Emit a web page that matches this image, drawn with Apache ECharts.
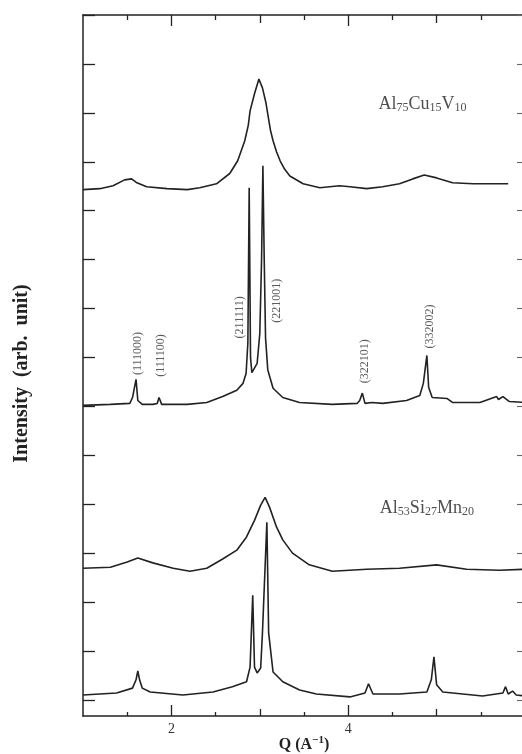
<!DOCTYPE html>
<html>
<head>
<meta charset="utf-8">
<script src="https://cdn.jsdelivr.net/npm/echarts@6/dist/echarts.min.js"></script>
<style>
html,body{margin:0;padding:0;background:#fff;}
#c{width:522px;height:754px;}
</style>
</head>
<body>
<div id="c"></div>
<script>
// Q (A^-1) vs intensity (arb. unit, in tick units)
const curveAlCuV = [[1.0,10.43],[1.19,10.45],[1.34,10.51],[1.47,10.63],[1.55,10.65],[1.61,10.57],[1.72,10.49],[1.95,10.45],[2.18,10.43],[2.32,10.47],[2.51,10.55],[2.66,10.76],[2.75,11.02],[2.83,11.43],[2.87,11.75],[2.89,12.04],[2.94,12.39],[2.99,12.69],[3.03,12.51],[3.07,12.2],[3.09,11.98],[3.12,11.65],[3.15,11.43],[3.19,11.2],[3.23,11.02],[3.28,10.85],[3.34,10.71],[3.49,10.55],[3.68,10.47],[3.90,10.51],[4.02,10.49],[4.21,10.45],[4.39,10.49],[4.58,10.55],[4.73,10.65],[4.86,10.73],[5.00,10.67],[5.18,10.57],[5.41,10.55],[5.63,10.55],[5.81,10.55]];

const curveAlCuVQc = [[1.0,6.02],[1.31,6.04],[1.53,6.06],[1.56,6.18],[1.60,6.55],[1.62,6.12],[1.67,6.04],[1.79,6.04],[1.84,6.06],[1.86,6.18],[1.89,6.04],[2.18,6.04],[2.40,6.08],[2.58,6.20],[2.74,6.33],[2.81,6.47],[2.845,6.67],[2.865,7.3],[2.88,10.47],[2.895,7.0],[2.91,6.69],[2.93,6.67],[2.97,6.88],[3.00,7.49],[3.02,9.0],[3.035,10.92],[3.05,9.0],[3.065,7.4],[3.09,6.75],[3.15,6.37],[3.26,6.18],[3.45,6.08],[3.82,6.04],[4.10,6.06],[4.13,6.12],[4.16,6.27],[4.19,6.06],[4.27,6.08],[4.39,6.06],[4.66,6.12],[4.81,6.22],[4.85,6.47],[4.89,7.04],[4.91,6.39],[4.95,6.18],[5.12,6.16],[5.18,6.08],[5.49,6.08],[5.68,6.20],[5.70,6.14],[5.75,6.20],[5.82,6.10],[6.0,6.08]];

const curveAlSiMn = [[1.0,2.69],[1.31,2.71],[1.50,2.82],[1.62,2.90],[1.79,2.80],[2.02,2.69],[2.21,2.63],[2.40,2.69],[2.58,2.88],[2.74,3.06],[2.85,3.33],[2.94,3.67],[3.01,3.98],[3.06,4.14],[3.11,3.94],[3.19,3.53],[3.26,3.27],[3.37,3.00],[3.56,2.76],[3.82,2.63],[4.21,2.67],[4.58,2.69],[5.00,2.76],[5.34,2.67],[5.71,2.65],[6.0,2.67]];

const curveAlSiMnQc = [[1.0,0.10],[1.38,0.14],[1.56,0.24],[1.60,0.41],[1.62,0.59],[1.64,0.41],[1.67,0.24],[1.76,0.16],[2.13,0.10],[2.47,0.16],[2.69,0.27],[2.85,0.37],[2.89,0.67],[2.92,2.14],[2.94,0.67],[2.97,0.55],[3.01,0.65],[3.03,1.37],[3.08,3.63],[3.10,1.37],[3.15,0.57],[3.26,0.37],[3.45,0.20],[3.64,0.12],[4.02,0.06],[4.19,0.14],[4.23,0.33],[4.28,0.12],[4.58,0.12],[4.89,0.16],[4.94,0.41],[4.97,0.88],[5.00,0.31],[5.07,0.16],[5.52,0.08],[5.75,0.14],[5.78,0.27],[5.81,0.12],[5.86,0.18],[5.90,0.10],[6.0,0.08]];

const peakLabels = [
  {name:'(111000)', value:[1.62,7.08]},
  {name:'(111100)', value:[1.88,7.04]},
  {name:'(211111)', value:[2.77,7.82]},
  {name:'(221001)', value:[3.19,8.16]},
  {name:'(322101)', value:[4.19,6.92]},
  {name:'(332002)', value:[4.92,7.63]}
];

const sampleLabels = [
  {name:'{n|Al}{s|75}{n|Cu}{s|15}{n|V}{s|10}', value:[4.84,12.18]},
  {name:'{n|Al}{s|53}{n|Si}{s|27}{n|Mn}{s|20}', value:[4.89,3.92]}
];

const xMajor = [2,4];
const xMid = [3,5];
const xMinor = [1.5,2.5,3.5,4.5,5.5];
const yTicks = [0,1,2,3,4,5,6,7,8,9,10,11,12,13,14];
const xTickLabels = [2,4];

const serif = '"Liberation Serif","DejaVu Serif",serif';
const ink = '#222';

function xAx(pos, vals, len, showLine, labels, name){
  return {
    type:'value', min:1, max:6, position:pos, gridIndex:0,
    axisLine:{show:showLine, onZero:false, lineStyle:{color:ink,width:1.5}},
    axisTick:{show:true, inside:true, length:len, customValues:vals, lineStyle:{color:ink,width:1.3}},
    axisLabel: labels ? {show:true, customValues:labels, margin:6, fontFamily:serif, fontSize:14, color:'#333'} : {show:false},
    splitLine:{show:false},
    name: name || '',
    nameLocation:'middle', nameGap:19, nameMoveOverlap:false,
    nameTextStyle:{
      fontFamily:serif, fontWeight:'bold', fontSize:16, color:'#222',
      rich:{b:{fontFamily:serif,fontWeight:'bold',fontSize:16,color:'#222'},
            p:{fontFamily:serif,fontWeight:'bold',fontSize:11,color:'#222',padding:[0,0,9,0]}}
    }
  };
}

const chart = echarts.init(document.getElementById('c'), null, {renderer:'canvas'});
chart.setOption({
  animation:false,
  backgroundColor:'#fff',
  grid:{left:83, top:15, width:442, height:701, containLabel:false, outerBoundsMode:'none'},
  xAxis:[
    xAx('bottom', xMajor, 11, true, xTickLabels, '{b|Q (A}{p|−1}{b|)}'),
    xAx('bottom', xMid, 7, false, null),
    xAx('bottom', xMinor, 4, false, null),
    xAx('top', xMajor, 11, true, null),
    xAx('top', xMid, 8, false, null),
    xAx('top', xMinor, 5, false, null)
  ],
  yAxis:[
    {type:'value', min:-0.33, max:14, position:'left',
     axisLine:{show:true, onZero:false, lineStyle:{color:ink,width:1.5}},
     axisTick:{show:true, inside:true, length:12, customValues:yTicks, lineStyle:{color:ink,width:1.3}},
     axisLabel:{show:false}, splitLine:{show:false},
     name:'Intensity  (arb.  unit)', nameLocation:'middle', nameRotate:90, nameGap:51, nameMoveOverlap:false,
     nameTextStyle:{fontFamily:serif, fontWeight:'bold', fontSize:20, color:'#222', padding:[0,16,0,0]}},
    {type:'value', min:-0.33, max:14, position:'right',
     axisLine:{show:false},
     axisTick:{show:true, inside:true, length:8, customValues:yTicks, lineStyle:{color:'#666',width:1.1}},
     axisLabel:{show:false}, splitLine:{show:false}}
  ],
  series:[
    {type:'line', data:curveAlCuV, showSymbol:false, symbol:'none', lineStyle:{color:ink,width:1.6}, silent:true},
    {type:'line', data:curveAlCuVQc, showSymbol:false, symbol:'none', lineStyle:{color:ink,width:1.6}, silent:true},
    {type:'line', data:curveAlSiMn, showSymbol:false, symbol:'none', lineStyle:{color:ink,width:1.6}, silent:true},
    {type:'line', data:curveAlSiMnQc, showSymbol:false, symbol:'none', lineStyle:{color:ink,width:1.6}, silent:true},
    {type:'scatter', data:peakLabels, symbolSize:0, silent:true,
     label:{show:true, position:'inside', rotate:90, formatter:p=>p.name, fontFamily:serif, fontSize:12, color:'#333'}},
    {type:'scatter', data:sampleLabels, symbolSize:0, silent:true,
     label:{show:true, position:'inside', formatter:p=>p.name,
       rich:{n:{fontFamily:serif, fontSize:18, color:'#222', lineHeight:22},
             s:{fontFamily:serif, fontSize:12, color:'#222', lineHeight:22, padding:[8,0,0,0]}}}}
  ]
});
</script>
</body>
</html>
